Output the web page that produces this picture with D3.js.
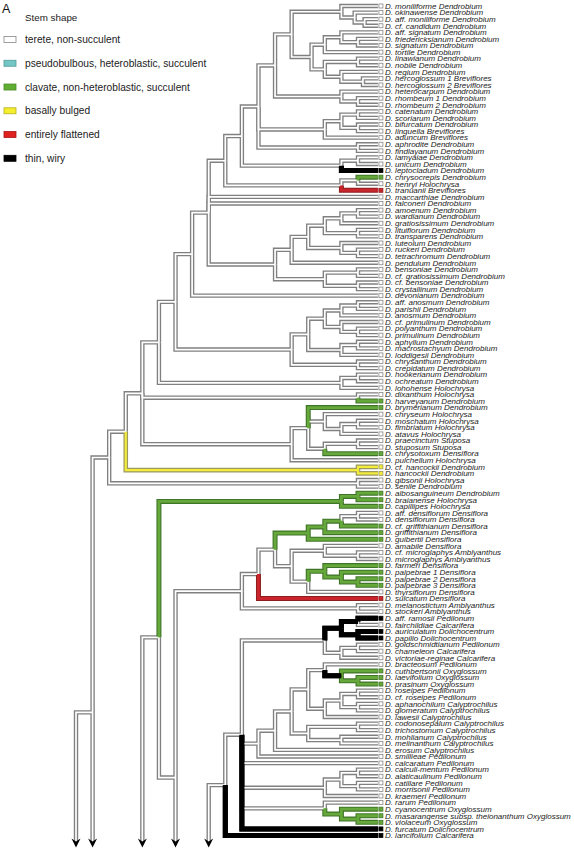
<!DOCTYPE html>
<html><head><meta charset="utf-8">
<script src="https://cdn.jsdelivr.net/npm/d3@7"></script>
<style>body{margin:0;background:#fff}svg{display:block}</style>
</head><body>
<svg id="chart" width="574" height="853"></svg>
<script>
// ---------------- DATA ----------------
const leafNames = [
"D. moniliforme Dendrobium","D. okinawense Dendrobium","D. aff. moniliforme Dendrobium","D. cf. candidum Dendrobium",
"D. aff. signatum Dendrobium","D. friedericksianum Dendrobium","D. signatum Dendrobium","D. tortile Dendrobium",
"D. linawianum Dendrobium","D. nobile Dendrobium","D. regium Dendrobium","D. hercoglossum 1 Breviflores",
"D. hercoglossum 2 Breviflores","D. heterocarpum Dendrobium","D. rhombeum 1 Dendrobium","D. rhombeum 2 Dendrobium",
"D. catenatum Dendrobium","D. scoriarum Dendrobium","D. bifurcatum Dendrobium","D. linguella Breviflores",
"D. aduncum Breviflores","D. aphrodite Dendrobium","D. findlayanum Dendrobium","D. lamyaiae Dendrobium",
"D. unicum Dendrobium","D. leptocladum Dendrobium","D. chrysocrepis Dendrobium","D. henryi Holochrysa",
"D. tranuanii Breviflores","D. maccarthiae Dendrobium","D. falconeri Dendrobium","D. amoenum Dendrobium",
"D. wardianum Dendrobium","D. gratiosissimum Dendrobium","D. lituiflorum Dendrobium","D. transparens Dendrobium",
"D. luteolum Dendrobium","D. ruckeri Dendrobium","D. tetrachromum Dendrobium","D. pendulum Dendrobium",
"D. bensoniae Dendrobium","D. cf. gratiosissimum Dendrobium","D. cf. bensoniae Dendrobium","D. crystallinum Dendrobium",
"D. devonianum Dendrobium","D. aff. anosmum Dendrobium","D. parishii Dendrobium","D. anosmum Dendrobium",
"D. cf. primulinum Dendrobium","D. polyanthum Dendrobium","D. primulinum Dendrobium","D. aphyllum Dendrobium",
"D. macrostachyum Dendrobium","D. loddigesii Dendrobium","D. chrysanthum Dendrobium","D. crepidatum Dendrobium",
"D. hookerianum Dendrobium","D. ochreatum Dendrobium","D. lohohense Holochrysa","D. dixanthum Holochrysa",
"D. harveyanum Dendrobium","D. brymerianum Dendrobium","D. chryseum Holochrysa","D. moschatum Holochrysa",
"D. fimbriatum Holochrysa","D. atavus Holochrysa","D. praecinctum Stuposa","D. stuposum Stuposa",
"D. chrysotoxum Densiflora","D. pulchellum Holochrysa","D. cf. hancockii Dendrobium","D. hancockii Dendrobium",
"D. gibsonii Holochrysa","D. senile Dendrobium","D. albosanguineum Dendrobium","D. braianense Holochrysa",
"D. capillipes Holochrysa","D. aff. densiflorum Densiflora","D. densiflorum Densiflora","D. cf. griffithianum Densiflora",
"D. griffithianum Densiflora","D. guibertii Densiflora","D. amabile Densiflora","D. cf. microglaphys Amblyanthus",
"D. microglaphys Amblyanthus","D. farmeri Densiflora","D. palpebrae 1 Densiflora","D. palpebrae 2 Densiflora",
"D. palpebrae 3 Densiflora","D. thyrsiflorum Densiflora","D. sulcatum Densiflora","D. melanostictum Amblyanthus",
"D. stockeri Amblyanthus","D. aff. ramosii Pedilonum","D. fairchildiae Calcarifera","D. auriculatum Dolichocentrum",
"D. papilio Dolichocentrum","D. goldschmidtianum Pedilonum","D. chameleon Calcarifera","D. victoriae-reginae Calcarifera",
"D. bracteosum Pedilonum","D. cuthbertsonii Oxyglossum","D. laevifolium Oxyglossum","D. prasinum Oxyglossum",
"D. roseipes Pedilonum","D. cf. roseipes Pedilonum","D. aphanochilum Calyptrochilus","D. glomeratum Calyptrochilus",
"D. lawesii Calyptrochilus","D. codonosepalum Calyptrochilus","D. trichostomum Calyptrochilus","D. mohlianum Calyptrochilus",
"D. melinanthum Calyptrochilus","D. erosum Calyptrochilus","D. smillieae Pedilonum","D. calcaratum Pedilonum",
"D. calculi-mentum Pedilonum","D. alaticaulinum Pedilonum","D. catillare Pedilonum","D. morrisonii Pedilonum",
"D. kraemeri Pedilonum","D. rarum  Pedilonum","D. cyanocentrum Oxyglossum","D. masarangense subsp. theionanthum Oxyglossum",
"D. violaceum Oxyglossum","D. furcatum Dolichocentrum","D. lancifolium Calcarifera"
];
// stem-shape state per leaf: w terete, g clavate, y bulged, r flattened, k wiry
const leafState = [
"w","w","w","w","w","w","w","w","w","w",
"w","w","w","w","w","w","w","w","w","w",
"w","w","w","w","w","k","g","w","r","w",
"w","w","w","w","w","w","w","w","w","w",
"w","w","w","w","w","w","w","w","w","w",
"w","w","w","w","w","w","w","w","w","w",
"g","g","w","w","w","w","w","w","g","w",
"y","y","w","w","g","g","g","w","w","g",
"g","g","w","w","w","g","g","g","g","w",
"r","w","w","k","w","k","k","w","w","w",
"w","g","g","g","w","w","w","w","w","w",
"w","w","w","w","w","w","w","w","w","w",
"w","w","g","g","g","k","k"
];
// clades: leaf numbers; label after ")" = node depth level, optional letter = state of the branch above the node
const cladeA = "(1,(2,(3,4)17.4)16.8)16";
const cladeB = "(((5,(6,7)17)16,8)15,((9,10)17,(11,(12,13)17.3)16)15)14.2";
const cladeC = "(14,(15,16)17)16";
const cladeD = "(((17,18)17,(19,20)17)16,21)15";
const cladeE = "(22,23)17";
const cladeG = "((24,25)17,26)16";
const cladeH = "((27,28)17,29)16";
const cladeK = "(((((32,33)17,34)16,(35,36)17)15,(37,(38,39)17)16)14,40)13";
const cladeL = "((41,42)17,(43,44)17)15";
const cladeM = "(((((46,47)17,48)16,(49,(50,51)17)16)15,((52,53)17,54)16)14,(55,56)17)13";
const cladeZ = "((57,58)17,59)16";
const cladeX = "(60,61)17";
const cladeY = "((62,(63,((64,65)17,66)16)15,((67,68)17,69)15)14,70)13";
const treeUpper = `((((((((((((${cladeA},${cladeB})13,${cladeC})12,${cladeD},${cladeE})11,${cladeG})10,${cladeH})9,30,31,(${cladeK},${cladeL})12)8,45)7,${cladeM})6,${cladeZ})5,${cladeX},${cladeY})4,(71,72)17y)3,(73,74)17)2`;
const treeAlb = "((75,76)17g,77)16g";
const cladeDens = "((((78,79)17,80)16g,81)15g,82)14g";
const cladeFarm = "((83,(84,85)17)15,((86,(87,(88,89)17g)16g)15g,90)14)13";
const treeMid = `(((${cladeDens},${cladeFarm})12,91)11,(92,93)17)10`;
const cladeRam = "(((94,95)17k,(96,97)17k)16k,((98,99)17,100)16)15";
const cladeCal = "((((101,(102,(103,104)17g)16k)15,(((105,106)17,(107,108)17)16,109)15)14,((110,111)17,(112,113)16)14)13,114)12";
const cladePed = "(((117,118)17,(119,120)17)16,121)15";
const cladeOxy = "(122,(123,(124,125)17g)16g)15";
const treeLow = `((${cladeRam},(${cladeCal},115)11,116,${cladePed},${cladeOxy},126)10,127)9`;
const trees = [treeUpper, treeAlb, treeMid, treeLow];
// stems from each clade root down to the arrows (stem level; end row, null = arrow)
const stemLevel = [1, 5, 6, 8];
const stemEndRow = [null, 96.9, null, null];
const stemColor = ["w", "g", "w", "w"];
const extraStems = [{fromLevel: 1, row: 108.3, toLevel: 0}, {fromLevel: 5, row: 96.9, toLevel: 4}];
const joinStem = {level: 5, fromRow: 96.9, toRow: 118.2, toLevel: 6};
const arrowLevels = [0, 1, 4, 6, 8];

const legendTitle = "Stem shape";
const legendLabels = ["terete, non-succulent", "pseudobulbous, heteroblastic, succulent",
  "clavate, non-heteroblastic, succulent", "basally bulged", "entirely flattened", "thin, wiry"];
const legendKeys = ["w", "t", "g", "y", "r", "k"];

// ---------------- STYLE ----------------
const outlineCol = {w: "#808080", g: "#3f7528", y: "#9b9860", r: "#8f1d1d", k: "#000"};
const fillCol    = {w: "#ffffff", g: "#66a83b", y: "#f3ec3c", r: "#c8262c", k: "#000"};
const outlineW   = {w: 4.4, g: 5, y: 4.6, r: 5, k: 5};
const fillW      = {w: 1.7, g: 2.8, y: 2.2, r: 3, k: 5};
const legendFill = {w: "#ffffff", t: "#72c6c3", g: "#5fae31", y: "#f5ee2c", r: "#e0221f", k: "#000"};
const legendStroke = {w: "#888", t: "#4f9c99", g: "#478a22", y: "#b5ae20", r: "#a81616", k: "#000"};
const FONT = "Liberation Sans, Arial, sans-serif";

// ---------------- LAYOUT ----------------
const tipLevel = 18.2;
const x = d3.scaleLinear().domain([0, 17]).range([76, 358]);
const y = d3.scaleLinear().domain([1, 127]).range([6, 835.5]);
const lineEndY = 841, arrowTipY = 847.5;

function parse(str) {
  const s = str.replace(/\s+/g, "");
  let i = 0;
  function node() {
    if (s[i] === "(") {
      i++;
      const children = [node()];
      while (s[i] === ",") { i++; children.push(node()); }
      i++;
      const m = s.slice(i).match(/^([0-9.]+)([a-z]?)/);
      i += m[0].length;
      return {children, level: +m[1], col: m[2] || "w"};
    }
    const m = s.slice(i).match(/^([0-9]+)/);
    i += m[0].length;
    const idx = +m[1];
    return {leaf: idx, level: tipLevel, col: leafState[idx - 1]};
  }
  return node();
}
function place(n) {
  if (n.leaf) { n.y = y(n.leaf); return n.y; }
  n.children.forEach(place);
  n.y = (n.children[0].y + n.children[n.children.length - 1].y) / 2;
  return n.y;
}
const segs = [];
function collect(n) {
  if (!n.children) return;
  n.children.forEach(c => {
    segs.push({d: `M${x(n.level)},${n.y}V${c.y}H${x(c.level)}`, col: c.col});
    collect(c);
  });
}
const roots = trees.map(parse);
roots.forEach((r, k) => {
  place(r); collect(r);
  const endY = stemEndRow[k] == null ? lineEndY : y(stemEndRow[k]);
  segs.push({d: `M${x(r.level)},${r.y}H${x(stemLevel[k])}V${endY}`, col: stemColor[k]});
});
extraStems.forEach(e => segs.push({d: `M${x(e.fromLevel)},${y(e.row)}H${x(e.toLevel)}V${lineEndY}`, col: "w"}));
segs.push({d: `M${x(joinStem.level)},${y(joinStem.fromRow)}V${y(joinStem.toRow)}H${x(joinStem.toLevel)}`, col: "w"});

// ---------------- DRAW ----------------
const svg = d3.select("#chart");
const order = ["w", "y", "g", "r", "k"];
const gT = svg.append("g").attr("fill", "none").attr("stroke-linejoin", "miter").attr("stroke-linecap", "butt");
order.forEach(c => gT.selectAll(null).data(segs.filter(s => s.col === c)).join("path")
  .attr("d", s => s.d).attr("stroke", outlineCol[c]).attr("stroke-width", outlineW[c]));
order.forEach(c => gT.selectAll(null).data(segs.filter(s => s.col === c)).join("path")
  .attr("d", s => s.d).attr("stroke", fillCol[c]).attr("stroke-width", fillW[c]));

svg.append("g").selectAll("path").data(arrowLevels).join("path")
  .attr("d", l => { const ax = x(l); return `M${ax - 4.5},${arrowTipY - 9}L${ax},${arrowTipY}L${ax + 4.5},${arrowTipY - 9}L${ax},${arrowTipY - 6}Z`; })
  .attr("fill", "#000");

const leaves = leafNames.map((name, i) => ({name, idx: i + 1, st: leafState[i]}));
svg.append("g").selectAll("rect").data(leaves).join("rect")
  .attr("x", x(tipLevel) + 1).attr("y", d => y(d.idx) - 2).attr("width", 4).attr("height", 4)
  .attr("fill", d => fillCol[d.st]).attr("stroke", d => d.st === "w" ? "#888" : outlineCol[d.st]).attr("stroke-width", 0.8);
svg.append("g").selectAll("text").data(leaves).join("text")
  .attr("x", x(tipLevel) + 7).attr("y", d => y(d.idx)).attr("dy", "0.35em")
  .attr("font-family", FONT).attr("font-style", "italic")
  .attr("font-size", 8).attr("fill", "#1a1a1a").text(d => d.name);

svg.append("text").attr("x", 2).attr("y", 13).attr("font-family", FONT)
  .attr("font-size", 12.5).attr("fill", "#111").text("A");
svg.append("text").attr("x", 25).attr("y", 17.3).attr("dy", "0.35em").attr("font-family", FONT)
  .attr("font-size", 9.8).attr("fill", "#222").text(legendTitle);
const ly = d3.scaleLinear().domain([0, 5]).range([39.5, 158.3]);
const lg = svg.append("g").selectAll("g").data(legendLabels).join("g");
lg.append("rect").attr("x", 4).attr("y", (d, i) => ly(i) - 3).attr("width", 12).attr("height", 6)
  .attr("fill", (d, i) => legendFill[legendKeys[i]]).attr("stroke", (d, i) => legendStroke[legendKeys[i]]).attr("stroke-width", 0.8);
lg.append("text").attr("x", 25).attr("y", (d, i) => ly(i)).attr("dy", "0.35em")
  .attr("font-family", FONT).attr("font-size", 10.2).attr("fill", "#222").text(d => d);
</script>
</body></html>
